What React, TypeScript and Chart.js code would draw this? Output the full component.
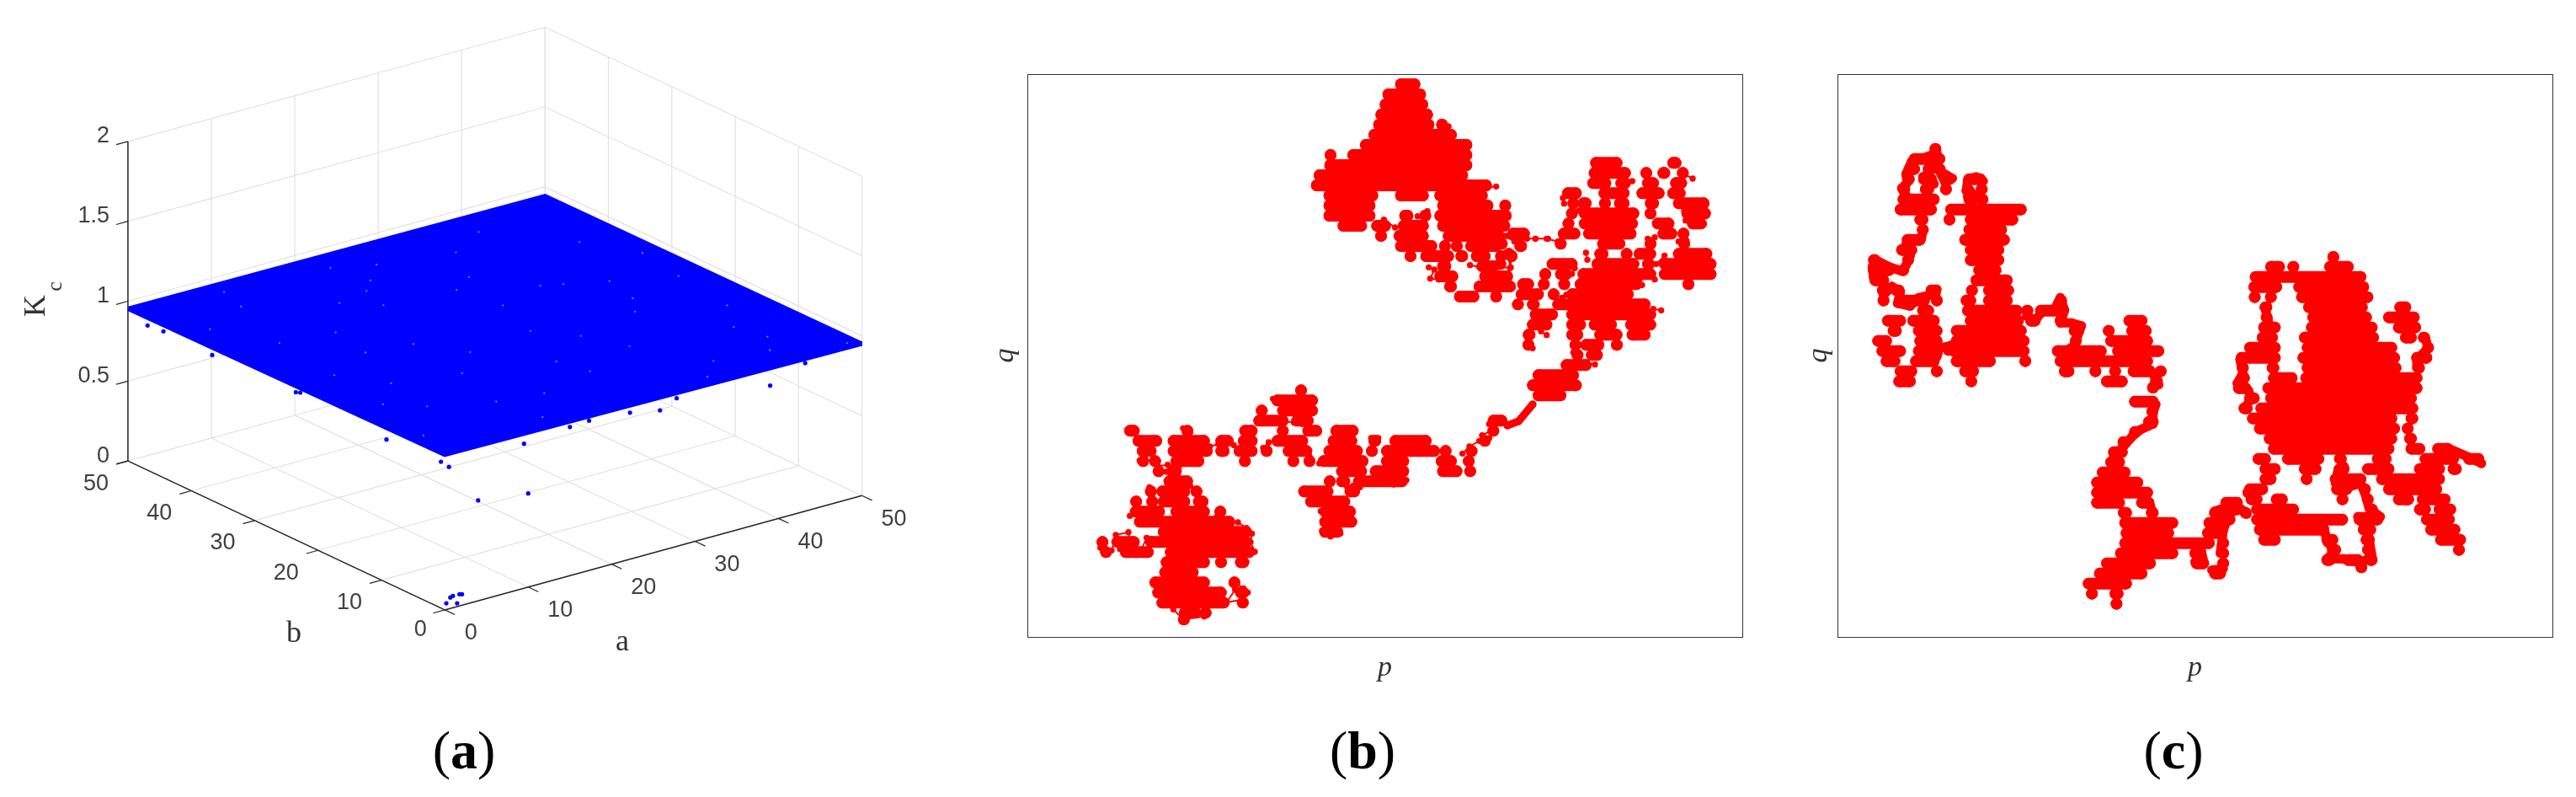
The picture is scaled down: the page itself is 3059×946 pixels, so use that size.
import React, { useEffect, useRef } from "react";
import { Chart, registerables } from "chart.js";
Chart.register(...registerables);

type P = [number, number];
type L = P[][];

// ---------- panel (a) values ----------
const aTicks = [0, 10, 20, 30, 40, 50];
const bTicks = [0, 10, 20, 30, 40, 50];
const kcTicks = [0, 0.5, 1, 1.5, 2];
const kcTickLabels = ["0", "0.5", "1", "1.5", "2"];
const planeUpperA = [0, 50, 50];
const planeUpperB = [50, 50, 0];
const planeUpperKc = [0.953, 0.943, 0.95];
const planeLowerA = [0, 0, 50];
const planeLowerB = [50, 0, 0];
const planeLowerKc = [0.953, 0.971, 0.95];
const strayA = [0, 0, 0, 0, 0, 0, 0.5, 0, 4, 10, 9.5, 15, 17.3, 22.2, 25.8, 27.8, 39, 43.2, 1.18, 2.42, 2.88, 3.64, 3.83, 2.0];
const strayB = [46.9, 44.4, 36.7, 23.5, 22.8, 9.2, 0, 0.6, 0, 0, 0, 0, 0, 0, 0, 0, 0, 0, 1.31, 2.3, 2.5, 2.47, 2.32, 0.68];
const strayKc = [0.906, 0.916, 0.911, 0.924, 0.935, 0.895, 0.888, 0.916, 0.628, 0.586, 0.904, 0.93, 0.937, 0.917, 0.88, 0.927, 0.846, 0.927, 0, 0, 0, 0, 0, 0];
const speckleA = [3, 7, 12, 18, 22, 27, 31, 36, 41, 46, 5, 9, 15, 20, 25, 29, 34, 38, 44, 48, 2, 11, 17, 24, 28, 33, 39, 43, 47, 6, 13, 19, 23, 30, 35, 42, 45, 8, 16, 26, 32, 37, 40, 14, 21, 4, 10, 49];
const speckleB = [41, 12, 33, 8, 47, 22, 37, 5, 28, 16, 24, 44, 17, 36, 10, 29, 43, 20, 7, 32, 6, 27, 39, 14, 35, 2, 46, 11, 25, 34, 9, 21, 42, 18, 31, 4, 38, 19, 26, 45, 13, 30, 23, 3, 40, 15, 48, 1];

// ---------- panel (b): cloud of the (p, q) trajectory, read as [q, p from, p to, p from, p to, ...] in 3x units ----------
const bRowsTop: number[][] = [
  [30,350,440],[66,305,460],[102,295,468],[138,280,485],[174,272,490,505,530],[210,255,570],[246,225,625],[282,105,135,180,625],[318,98,625],[354,60,610],[390,50,695],
  [426,95,290,350,470,490,680],[462,95,280,500,700,735,750],[498,95,280,365,415,440,475,490,765],[534,145,250,265,335,360,470,500,760],[570,285,315,345,470,520,740],[606,350,500,510,545,560,580,600,730,775,820],[642,400,410,440,560,565,610,620,690,720,735,750,780],[678,500,550,640,720],[714,490,575,650,770],[750,525,570,630,780],[786,560,650,700,720],
];
const bRowsRight: number[][] = [
  [40,325,440,600,650],[76,320,470,515,535,565,610,640,670],[112,315,400,415,470,510,570,610,670],[148,225,295,355,465,490,590,600,665],[184,250,280,280,330,360,395,410,465,520,570,620,750],[220,250,270,285,500,520,560,650,755],[256,230,265,285,495,545,625,670,740],[292,30,110,210,290,300,490,565,635,650,665],[328,0,20,200,240,350,450,520,560,640,680],[364,20,50,340,390,440,470,480,560,620,760],[400,0,10,170,280,330,500,510,555,570,775],[436,150,180,200,260,280,560,570,775],[472,0,50,65,125,145,175,215,250,270,510,660,690],[508,60,160,175,215,240,480],[544,55,80,100,145,190,540],[580,110,210,240,560],[616,100,190,240,310,320,420,450,560],[652,85,130,240,300,340,440,455,540],[688,85,125,260,285,290,375,400,440],[724,260,300,310,370],[760,220,330],[796,120,285],[832,100,295],[868,120,240],
];
const bRowsLower: number[][] = [
  [40,755,775],[76,660,825],[112,610,640,680,825],[148,595,720,730,810,1430,1500],[184,135,190,340,380,545,610,690,710,770,840,870,970,1440,1460],[220,165,270,290,440,460,525,540,610,660,790,860,965,1005,1050,1080,1230,1400,1440],[256,180,250,290,450,460,510,525,610,625,660,700,805,845,985,1005,1030,1050,1260,1270,1290,1360,1385],[292,185,220,240,250,300,420,550,580,725,750,780,810,825,1005,1050,1150,1245,1320,1345,1380],[328,250,265,285,340,890,1000,1010,1150,1250,1340,1360,1375],[364,275,380,855,880,890,940,950,1145],[400,220,240,250,300,280,370,385,400,755,880,920,975],[436,160,195,220,250,255,370,380,435,780,940],[472,155,280,300,440,460,495,830,960],[508,170,530,830,965],[544,255,590,830,915],[580,45,70,90,190,210,590],[616,50,90,120,240,280,600],[652,265,440,460,500,530,580],[688,260,400],[724,225,440,520,535],[760,235,500,530,580],[796,250,510,550,565],[832,330,410,420,430],[856,345,350],
];
const bLinkLower: L = [[[1500,165],[1540,150],[1590,90]]];
const bTopChain: L = [
  [[470,682],[490,690],[475,722],[505,725]],[[720,680],[760,684]],[[617,674],[650,680]],[[755,628],[765,650],[760,684]],[[710,394],[680,398]],[[740,570],[775,590],[800,580],[850,580],[895,580]],[[512,165],[540,180]],[[465,482],[430,500]],[[350,540],[310,512]],
];
const bRightChain: L = [
  [[30,300],[70,310],[100,310],[130,310],[170,310],[210,320]],[[228,165],[232,185]],[[260,210],[285,210]],[[690,96],[660,80]],[[475,105],[440,105]],[[660,210],[665,245],[690,265],[730,258]],[[660,295],[640,320],[668,316]],[[590,370],[560,400]],[[555,455],[530,430]],[[510,475],[500,460]],[[530,310],[555,305]],[[270,415],[260,435]],[[225,520],[240,510]],[[170,653],[150,640]],[[120,700],[100,680]],[[342,758],[310,752]],[[270,690],[265,715]],[[578,565],[550,560]],[[42,412],[30,370],[45,380]],[[310,360],[315,385]],[[520,68],[525,85]],
];
const bLowerChain: L = [
  [[345,175],[370,190]],[[425,265],[440,240],[470,232],[490,222],[485,252],[510,222],[525,235]],[[595,180],[590,200]],[[630,245],[650,225],[650,250]],[[765,40],[765,60]],[[665,70],[690,75]],[[710,150],[740,155],[770,160]],[[795,275],[790,250]],[[830,300],[860,298]],[[950,380],[975,385],[930,385]],[[1095,375],[1140,360]],[[1340,265],[1365,240],[1400,220],[1435,210],[1410,200],[1450,180],[1435,160]],[[190,290],[210,290],[245,290],[255,310],[290,305],[330,310],[285,330]],[[215,265],[210,290]],[[225,385],[230,420]],[[395,392],[370,380]],[[155,487],[185,480]],[[50,580],[50,600],[90,610],[100,580],[120,605],[105,555],[150,545],[165,625],[190,620],[215,565]],[[540,510],[570,530],[590,550],[585,580],[600,615]],[[570,650],[545,640]],[[525,720],[560,745],[575,760],[555,785],[500,795],[530,750]],[[310,820],[345,855],[420,845]],[[840,540],[870,560],[905,550]],[[485,470],[465,490]],[[1040,210],[1015,210]],[[835,470],[850,440]],
];

// ---------- panel (c) ----------
const cRowsLeft: number[][] = [
  [50,280,310],[86,200,330],[122,190,240,250,300,300,320],[158,190,210,240,300,320,365,395,475],[194,160,205,240,290,320,345,395,425,445,475],[230,160,310,395,450,455,470],[266,150,300,330,620],[302,220,270,330,360,400,590],[338,235,265,395,550],[374,175,260,380,560],[410,155,230,400,540],[446,55,100,180,215,400,540],[482,55,150,165,195,430,530],[518,60,130,420,570],[554,95,120,135,185,260,315,410,440,465,575],[590,95,125,150,275,290,310,385,440,465,570,725,760],[626,230,290,390,605,615,630,650,765],[662,105,190,195,310,400,610,615,670,720,765,965,1050],[698,125,175,215,320,350,620,770,825,900,925,975,1065],[734,70,140,220,320,350,630,780,810,900,1070],[770,85,190,215,310,340,630,710,905,925,1110],[806,100,170,205,310,350,510,600,630,720,1070],[842,150,230,285,315,380,450,735,790,850,880,920,950,980,1080,1090,1105],[878,145,225,405,440,885,980,1060,1105],[900,1050,1090],
];
const cRowsCore: number[][] = [
  [75,385,400],[110,150,220,240,260,360,465],[146,95,510],[182,90,210,250,520],[218,95,130,150,190,260,535],[254,130,175,285,515,610,670],[290,135,175,300,530,570,700],[326,125,205,295,550,605,705],[362,120,195,270,555,630,690,705,725],[398,75,205,280,620,710,750],[434,45,205,265,630,670,745],[470,55,85,155,200,280,635,680,715],[506,50,95,160,265,275,710],[542,35,100,140,710],[578,75,130,150,690],[614,55,105,115,695],[650,85,620,650,695],[686,110,630,650,665],[722,145,620,645,690],[758,160,610,650,720,745,820],[794,105,170,210,360,395,440,530,600,700,840,855,930],[830,130,205,270,350,395,450,495,610,680,790,800,850],[866,130,190,285,310,380,510,545,790],[902,75,160,385,460,490,520,570,780],[938,80,140,170,230,415,435,505,525,605,680,690,810],[974,0,70,100,270,510,550,680,740,750,830],[1010,15,30,100,445,465,570,705,825],[1046,110,370,480,545,720,845],[1082,125,205,350,410,490,540,755,865],[1118,370,420,495,540,830,850],[1154,350,400,425,500,505,550],[1180,485,500],
];
const cRowsLower: number[][] = [
  [20,205,310],[56,275,300],[92,255,310],[128,205,250],[164,175,195],[200,130,200],[236,120,190],[272,90,210],[308,70,255],[344,70,290,620,640],[380,70,190,230,295,530,610],[416,165,215,265,310,490,585,600,640],[452,170,380,470,560],[488,175,365,465,555],[524,170,510,530,550],[560,155,380,420,480,525,555],[596,105,300,425,490,530,550],[632,80,270,490,550],[668,40,215],[704,55,90,135,185],[740,140,180],
];
const cPathLeft: L = [
  [[300,65],[260,80],[210,95],[190,140],[195,170],[175,190],[190,215]],[[250,160],[290,175],[270,140],[250,150]],[[310,130],[330,170],[355,155],[320,135]],[[410,160],[440,150],[465,165]],[[420,200],[410,220],[455,210]],[[410,160],[405,200]],[[250,340],[245,370],[190,390],[205,430],[190,465],[175,485],[130,470],[90,450],[70,470],[75,510]],[[110,520],[110,570],[140,540],[170,560],[160,600],[205,610],[235,580],[280,570],[300,550],[295,575]],[[620,645],[650,660],[680,625],[720,620],[740,580],[755,625],[740,670],[780,670],[815,680],[800,720],[790,750],[760,770]],[[340,770],[350,750],[310,760],[300,790]],[[1075,860],[1090,890]],
];
const cPathCore: L = [
  [[720,360],[730,400],[690,440],[690,470]],[[360,1040],[370,1090],[400,1120],[370,1150],[430,1150],[490,1165],[530,1140],[520,1080],[510,1040],[480,1000],[560,1000],[520,970],[510,930],[490,880],[430,900],[400,880],[410,830],[430,820]],[[770,1000],[820,1050]],[[810,760],[880,790],[920,810]],[[150,260],[160,300],[170,340]],[[60,440],[70,490],[50,525],[90,550],[100,580],[75,615]],
];
const cPathLower: L = [
  [[300,30],[290,60],[290,100],[245,120],[215,145],[185,180],[150,215]],[[530,560],[540,480],[550,450]],[[510,410],[570,390],[600,400],[625,420]],[[460,540],[470,590],[440,590]],[[500,620],[540,615]],[[280,390],[290,420]],
];

const capText = ["a", "b", "c"];
const FONT = "'Liberation Sans', Arial, sans-serif";
const SERIF = "'Liberation Serif', 'Times New Roman', serif";

const project = (a: number, b: number, k: number) => ({
  x: 528 + 9.98 * a - 7.58 * b,
  y: 727 - 2.74 * a - 3.57 * b - 191.5 * k,
});

function seg(from: number[], to: number[], color: string, width = 1.2) {
  return {
    data: [project(from[0], from[1], from[2]), project(to[0], to[1], to[2])],
    showLine: true, borderColor: color, borderWidth: width, pointRadius: 0, fill: false,
  };
}

function Panel3D() {
  const ref = useRef<HTMLCanvasElement>(null);
  useEffect(() => {
    const grid = "#e2e2e2", axis = "#262626";
    const gridSets: any[] = [];
    for (const t of aTicks) {
      gridSets.push(seg([t, 0, 0], [t, 50, 0], grid));
      gridSets.push(seg([0, t, 0], [50, t, 0], grid));
      gridSets.push(seg([t, 50, 0], [t, 50, 2], grid));
      gridSets.push(seg([50, t, 0], [50, t, 2], grid));
    }
    for (const k of kcTicks.slice(1)) {
      gridSets.push(seg([0, 50, k], [50, 50, k], grid));
      gridSets.push(seg([50, 50, k], [50, 0, k], grid));
    }
    const axisSets: any[] = [
      seg([0, 50, 0], [0, 50, 2], axis, 1.5),
      seg([0, 0, 0], [0, 50, 0], axis, 1.5),
      seg([0, 0, 0], [50, 0, 0], axis, 1.5),
    ];
    for (const k of kcTicks) axisSets.push(seg([0, 50, k], [-1.4, 50, k], axis, 1.2));
    for (const t of aTicks) axisSets.push(seg([t, 0, 0], [t, -1.6, 0], axis, 1.2));
    for (const t of bTicks) axisSets.push(seg([0, t, 0], [-1.4, t, 0], axis, 1.2));

    const labels = {
      id: "labels3d",
      afterDraw(c: any) {
        const g = c.ctx, sx = c.scales.x, sy = c.scales.y;
        const at = (p: { x: number; y: number }) => [sx.getPixelForValue(p.x), sy.getPixelForValue(p.y)];
        g.save();
        g.fillStyle = "#404040";
        g.font = `27px ${FONT}`;
        g.textBaseline = "middle";
        g.textAlign = "right";
        kcTicks.forEach((k, i) => {
          const [x, y] = at(project(0, 50, k));
          g.fillText(kcTickLabels[i], x - 22, y - 6);
        });
        g.textAlign = "center";
        aTicks.forEach((t) => {
          const [x, y] = at(project(t, 0, 0));
          g.fillText(String(t), x + (t === 0 ? 31 : 38), y + 28);
        });
        bTicks.forEach((t) => {
          const [x, y] = at(project(0, t, 0));
          g.fillText(String(t), x + (t === 0 ? -29 : -38), y + (t === 0 ? 24 : 27));
        });
        g.fillStyle = "#333";
        g.font = `36px ${SERIF}`;
        g.fillText("b", 349, 753);
        g.fillText("a", 739, 763);
        g.translate(44, 363);
        g.rotate(-Math.PI / 2);
        g.fillText("K", 0, 0);
        g.font = `26px ${SERIF}`;
        g.fillText("c", 23, 22);
        g.restore();
      },
    };

    const chart = new Chart(ref.current!, {
      type: "scatter",
      data: {
        datasets: [
          { data: speckleA.map((a, i) => project(a, speckleB[i], 0.95)), pointRadius: 1.1, pointBackgroundColor: "#7f7fff", pointBorderWidth: 0 },
          { data: strayA.map((a, i) => project(a, strayB[i], strayKc[i])), pointRadius: 2.6, pointBackgroundColor: "#0000ff", pointBorderWidth: 0 },
          { data: planeUpperA.map((a, i) => project(a, planeUpperB[i], planeUpperKc[i])), showLine: true, borderColor: "#0000ff", borderWidth: 5, backgroundColor: "#0000ff", pointRadius: 0, fill: "+1" },
          { data: planeLowerA.map((a, i) => project(a, planeLowerB[i], planeLowerKc[i])), showLine: true, borderColor: "#0000ff", borderWidth: 5, pointRadius: 0, fill: false },
          ...axisSets,
          ...gridSets,
        ] as any,
      },
      options: {
        animation: false, responsive: false, events: [],
        layout: { padding: 0 },
        plugins: { legend: { display: false }, tooltip: { enabled: false }, title: { display: false } },
        scales: {
          x: { type: "linear", display: false, min: 0, max: 1100 },
          y: { type: "linear", display: false, min: 0, max: 820, reverse: true },
        },
      },
      plugins: [labels],
    } as any);
    return () => chart.destroy();
  }, []);
  return <canvas ref={ref} width={1100} height={820} style={{ position: "absolute", left: 0, top: 0 }} />;
}

const BREAK = { x: NaN, y: NaN };
// polylines read in a window whose corner is (x0, y0); readings are 3x the plot unit
const traces = (sets: [L, number, number][]) => {
  const out: any[] = [];
  for (const [lines, x0, y0] of sets) {
    for (const line of lines) {
      for (const [x, y] of line) out.push({ x: x0 + x / 3, y: y0 + y / 3 });
      out.push(BREAK);
    }
  }
  return out;
};
// horizontal bands of the cloud; ends pulled in by half the mark width (cap = w/2 in plot units)
const bands = (sets: [number[][], number, number][], cap: number) => {
  const out: any[] = [];
  for (const [rows, x0, y0] of sets) {
    for (const row of rows) {
      const y = y0 + row[0] / 3;
      for (let i = 1; i + 1 < row.length; i += 2) {
        const a = x0 + row[i] / 3 + cap, b = x0 + row[i + 1] / 3 - cap;
        if (b > a) { out.push({ x: a, y }, { x: b, y }); }
        else out.push({ x: (a + b) / 2, y });
        out.push(BREAK);
      }
    }
  }
  return out;
};

function Walk({ left, width, areaLeft, areaRight, xMin, xMax, datasets, qPad }: any) {
  const ref = useRef<HTMLCanvasElement>(null);
  const height = 770, areaTop = 18, bottomPad = 27, xBand = 57;
  useEffect(() => {
    const box = {
      id: "box",
      afterDraw(c: any) {
        const { left: l, top: t, width: w, height: h } = c.chartArea;
        c.ctx.save();
        c.ctx.strokeStyle = "#333";
        c.ctx.lineWidth = 1;
        c.ctx.strokeRect(Math.round(l) + 0.5, Math.round(t) + 0.5, Math.round(w), Math.round(h));
        c.ctx.restore();
      },
    };
    const chart = new Chart(ref.current!, {
      type: "scatter",
      data: {
        datasets: datasets.map((k: any) => ({
          data: k.data, showLine: true, spanGaps: false, borderColor: "#ff0000", borderWidth: k.w,
          borderCapStyle: "round", borderJoinStyle: "round", pointRadius: k.r, pointBackgroundColor: "#ff0000", pointBorderWidth: 0, tension: 0,
        })),
      },
      options: {
        animation: false, responsive: false, events: [],
        layout: { padding: { top: areaTop, right: width - areaRight, left: 0, bottom: bottomPad } },
        plugins: { legend: { display: false }, tooltip: { enabled: false } },
        scales: {
          x: {
            type: "linear", min: xMin, max: xMax,
            grid: { display: false }, border: { display: false }, ticks: { display: false },
            title: { display: true, text: "p", color: "#333", font: { family: SERIF, size: 34, style: "italic" }, padding: { top: 0, bottom: 0 } },
            afterFit: (s: any) => { s.height = xBand; },
          },
          y: {
            type: "linear", min: 88, max: 756, reverse: true,
            grid: { display: false }, border: { display: false }, ticks: { display: false },
            title: { display: true, text: "q", color: "#333", font: { family: SERIF, size: 34, style: "italic" }, padding: { top: qPad, bottom: 0 } },
            afterFit: (s: any) => { s.width = areaLeft; },
          },
        },
      },
      plugins: [box],
    } as any);
    return () => chart.destroy();
  }, []);
  return <canvas ref={ref} width={width} height={height} style={{ position: "absolute", left, top: 70 }} />;
}

function Caption({ cx, letter }: { cx: number; letter: string }) {
  return (
    <div style={{ position: "absolute", left: cx - 100, width: 200, top: 856, textAlign: "center", fontFamily: SERIF, fontSize: 64, lineHeight: "70px", color: "#000" }}>
      (<b>{letter}</b>)
    </div>
  );
}

const bData = [
  { w: 14, r: 7, data: bands([[bRowsTop, 1540, 90], [bRowsRight, 1780, 180], [bRowsLower, 1290, 450]], 7) },
  { w: 2, r: 3.7, data: traces([[bTopChain, 1540, 90], [bRightChain, 1780, 180], [bLowerChain, 1290, 450]]) },
  { w: 9, r: 4.5, data: traces([[bLinkLower, 1290, 450]]) },
];
const cData = [
  { w: 14, r: 7, data: bands([[cRowsLeft, 2200, 160], [cRowsCore, 2640, 280], [cRowsLower, 2460, 470]], 7) },
  { w: 11, r: 5.5, data: traces([[cPathLeft, 2200, 160], [cPathCore, 2640, 280], [cPathLower, 2460, 470]]) },
];

export default function App() {
  return (
    <div style={{ position: "absolute", left: 0, top: 0, width: 3059, height: 946, background: "#fff", overflow: "hidden" }}>
      <Panel3D />
      <Walk left={1160} width={930} areaLeft={60} areaRight={909} xMin={1220} xMax={2069} datasets={bData} qPad={14} />
      <Walk left={2130} width={929} areaLeft={52} areaRight={901} xMin={2182} xMax={3031} datasets={cData} qPad={10} />
      <Caption cx={551} letter={capText[0]} />
      <Caption cx={1618} letter={capText[1]} />
      <Caption cx={2581} letter={capText[2]} />
    </div>
  );
}
